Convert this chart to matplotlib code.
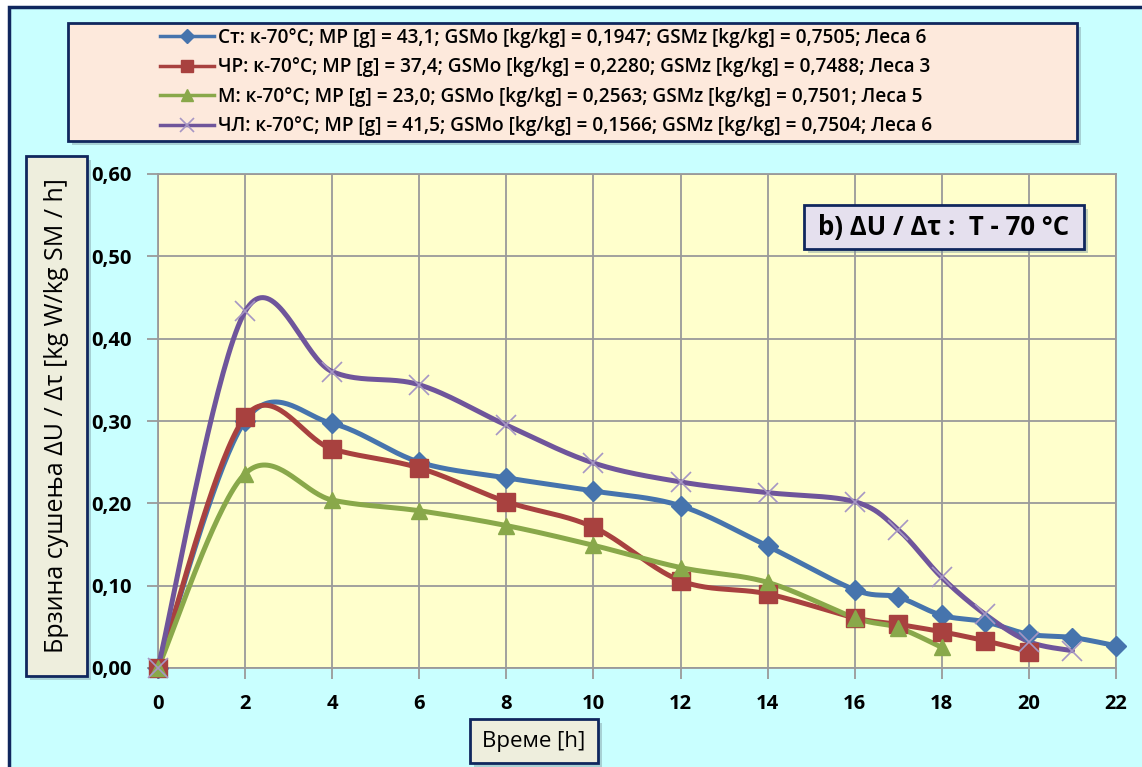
import matplotlib
matplotlib.use("Agg")
import matplotlib.pyplot as plt
import numpy as np
from matplotlib.patches import Rectangle
from matplotlib.lines import Line2D

plt.rcParams["font.family"] = ["Open Sans", "DejaVu Sans"]

# drying time [h] and drying rate for each sample
hours_st = [0, 2, 4, 6, 8, 10, 12, 14, 16, 17, 18, 19, 20, 21, 22]
rate_st = [0.0, 0.300, 0.297, 0.250, 0.231, 0.215, 0.197, 0.148, 0.095, 0.086,
           0.064, 0.056, 0.041, 0.037, 0.027]
hours_chr = [0, 2, 4, 6, 8, 10, 12, 14, 16, 17, 18, 19, 20]
rate_chr = [0.0, 0.305, 0.266, 0.243, 0.202, 0.171, 0.106, 0.090, 0.061, 0.053,
            0.044, 0.033, 0.020]
hours_m = [0, 2, 4, 6, 8, 10, 12, 14, 16, 17, 18]
rate_m = [0.0, 0.236, 0.204, 0.191, 0.173, 0.149, 0.122, 0.104, 0.061, 0.049, 0.025]
hours_chl = [0, 2, 4, 6, 8, 10, 12, 14, 16, 17, 18, 19, 20, 21]
rate_chl = [0.0, 0.433, 0.360, 0.344, 0.295, 0.249, 0.226, 0.213, 0.202, 0.168,
            0.110, 0.065, 0.032, 0.021]

labels = [
    "Ст: к-70°C; MP [g] = 43,1; GSMo [kg/kg] = 0,1947; GSMz [kg/kg] = 0,7505; Леса 6",
    "ЧР: к-70°C; MP [g] = 37,4; GSMo [kg/kg] = 0,2280; GSMz [kg/kg] = 0,7488; Леса 3",
    "М: к-70°C; MP [g] = 23,0; GSMo [kg/kg] = 0,2563; GSMz [kg/kg] = 0,7501; Леса 5",
    "ЧЛ: к-70°C; MP [g] = 41,5; GSMo [kg/kg] = 0,1566; GSMz [kg/kg] = 0,7504; Леса 6",
]
x_ticks = list(range(0, 23, 2))
y_ticks = [0.0, 0.1, 0.2, 0.3, 0.4, 0.5, 0.6]

W, H = 1142, 767
AX_L, AX_R, AX_T, AX_B = 158, 1116, 174, 668


def fx(px):
    return px / W


def fy(py):
    return 1 - py / H


def smooth(xs, ys, n=40):
    # excel-like smoothed line: catmull-rom bezier, worked out in pixel space
    sx = (AX_R - AX_L) / 22.0
    sy = (AX_B - AX_T) / 0.6
    p = np.column_stack([np.asarray(xs, float) * sx, np.asarray(ys, float) * sy])
    t = np.linspace(0, 1, n)[:, None]
    out = []
    for i in range(len(p) - 1):
        p0 = p[i - 1] if i > 0 else p[i]
        p1, p2 = p[i], p[i + 1]
        p3 = p[i + 2] if i + 2 < len(p) else p[i + 1]
        c1 = p1 + (p2 - p0) / 6
        c2 = p2 - (p3 - p1) / 6
        seg = ((1 - t) ** 3 * p1 + 3 * (1 - t) ** 2 * t * c1
               + 3 * (1 - t) * t ** 2 * c2 + t ** 3 * p2)
        out.append(seg if i == 0 else seg[1:])
    out = np.vstack(out)
    return out[:, 0] / sx, out[:, 1] / sy


def box(x0, y0, x1, y1, face, lw=2.0, z=2):
    fig.patches.append(Rectangle((fx(x0 + 4), fy(y1 + 4)), fx(x1 - x0), (y1 - y0) / H,
                                 transform=fig.transFigure, facecolor="#7f9aa0",
                                 alpha=0.45, edgecolor="none", zorder=z - 0.5))
    fig.patches.append(Rectangle((fx(x0), fy(y1)), fx(x1 - x0), (y1 - y0) / H,
                                 transform=fig.transFigure, facecolor=face,
                                 edgecolor="#10275e", linewidth=lw, zorder=z))


fig = plt.figure(figsize=(W / 100, H / 100), dpi=100)
fig.patch.set_facecolor("white")
fig.patches.append(Rectangle((fx(9), fy(H + 10)), fx(W), (H + 3) / H,
                             transform=fig.transFigure, facecolor="#c9ffff",
                             edgecolor="#10275e", linewidth=2.5, zorder=0))

ax = fig.add_axes([fx(AX_L), fy(AX_B), fx(AX_R - AX_L), (AX_B - AX_T) / H])
ax.set_facecolor("#ffffcc")
ax.set_zorder(3)

series = [
    (hours_st, rate_st, "#4674ad", "D", 10, "#4674ad", 1.0),
    (hours_chr, rate_chr, "#a8413f", "s", 13, "#a8413f", 1.0),
    (hours_m, rate_m, "#89a84a", "^", 12, "#89a84a", 1.0),
    (hours_chl, rate_chl, "#6f559b", "x", 15, "#a696c4", 1.2),
]
handles = []
for (xs, ys, col, mk, ms, mec, mew), lab in zip(series, labels):
    sx, sy = smooth(xs, ys)
    ax.plot(sx, sy, color=col, linewidth=3.6, solid_capstyle="round", zorder=3)
    ax.plot(xs, ys, linestyle="none", marker=mk, markersize=ms, color=col,
            markeredgecolor=mec, markeredgewidth=mew, zorder=4, clip_on=False)
    handles.append(Line2D([], [], color=col, linewidth=2.5, marker=mk,
                          markersize=ms * 0.7, markeredgecolor=mec,
                          markeredgewidth=mew, label=lab))

ax.set_xlim(0, 22)
ax.set_ylim(0, 0.6)
ax.set_xticks(x_ticks)
ax.set_yticks(y_ticks)
ax.set_yticklabels([f"{v:.2f}".replace(".", ",") for v in y_ticks])
ax.grid(True, color="#9a9a9a", linewidth=1.3)
ax.set_axisbelow(True)
for s in ax.spines.values():
    s.set_color("#9a9a9a")
    s.set_linewidth(1.3)
ax.tick_params(axis="both", colors="#9a9a9a", width=1.3, length=8, labelcolor="black",
               labelsize=14.5)
ax.tick_params(axis="x", pad=11)
ax.tick_params(axis="y", pad=11)
for t in ax.get_xticklabels() + ax.get_yticklabels():
    t.set_fontweight("bold")

# legend box
box(68, 23, 1077, 141, "#fde9dc")
leg = fig.legend(handles=handles, loc="center left", bbox_to_anchor=(fx(152), fy(82)),
                 frameon=False, prop=dict(size=13.7, weight="semibold"),
                 handlelength=2.85, handletextpad=0.2,
                 labelspacing=0.5, borderaxespad=0)
leg.set_zorder(5)

# axis title boxes
box(26, 156, 87, 676, "#eeeedd")
fig.text(fx(57), fy(416), "Брзина сушења ΔU / Δτ [kg W/kg SM / h]", rotation=90,
         ha="center", va="center", fontsize=18, fontweight="medium", zorder=6)
box(470, 719, 598, 763, "#eeeedd")
fig.text(fx(534), fy(741), "Време [h]", ha="center", va="center", fontsize=16,
         fontweight="medium", zorder=6)

box(804, 205, 1084, 249, "#e5e0ee", z=4)
fig.text(fx(944), fy(227), "b) ΔU / Δτ :  T - 70 °C", ha="center", va="center",
         fontsize=18.5, fontweight="bold", zorder=6)

fig.savefig("out.png", dpi=100)
